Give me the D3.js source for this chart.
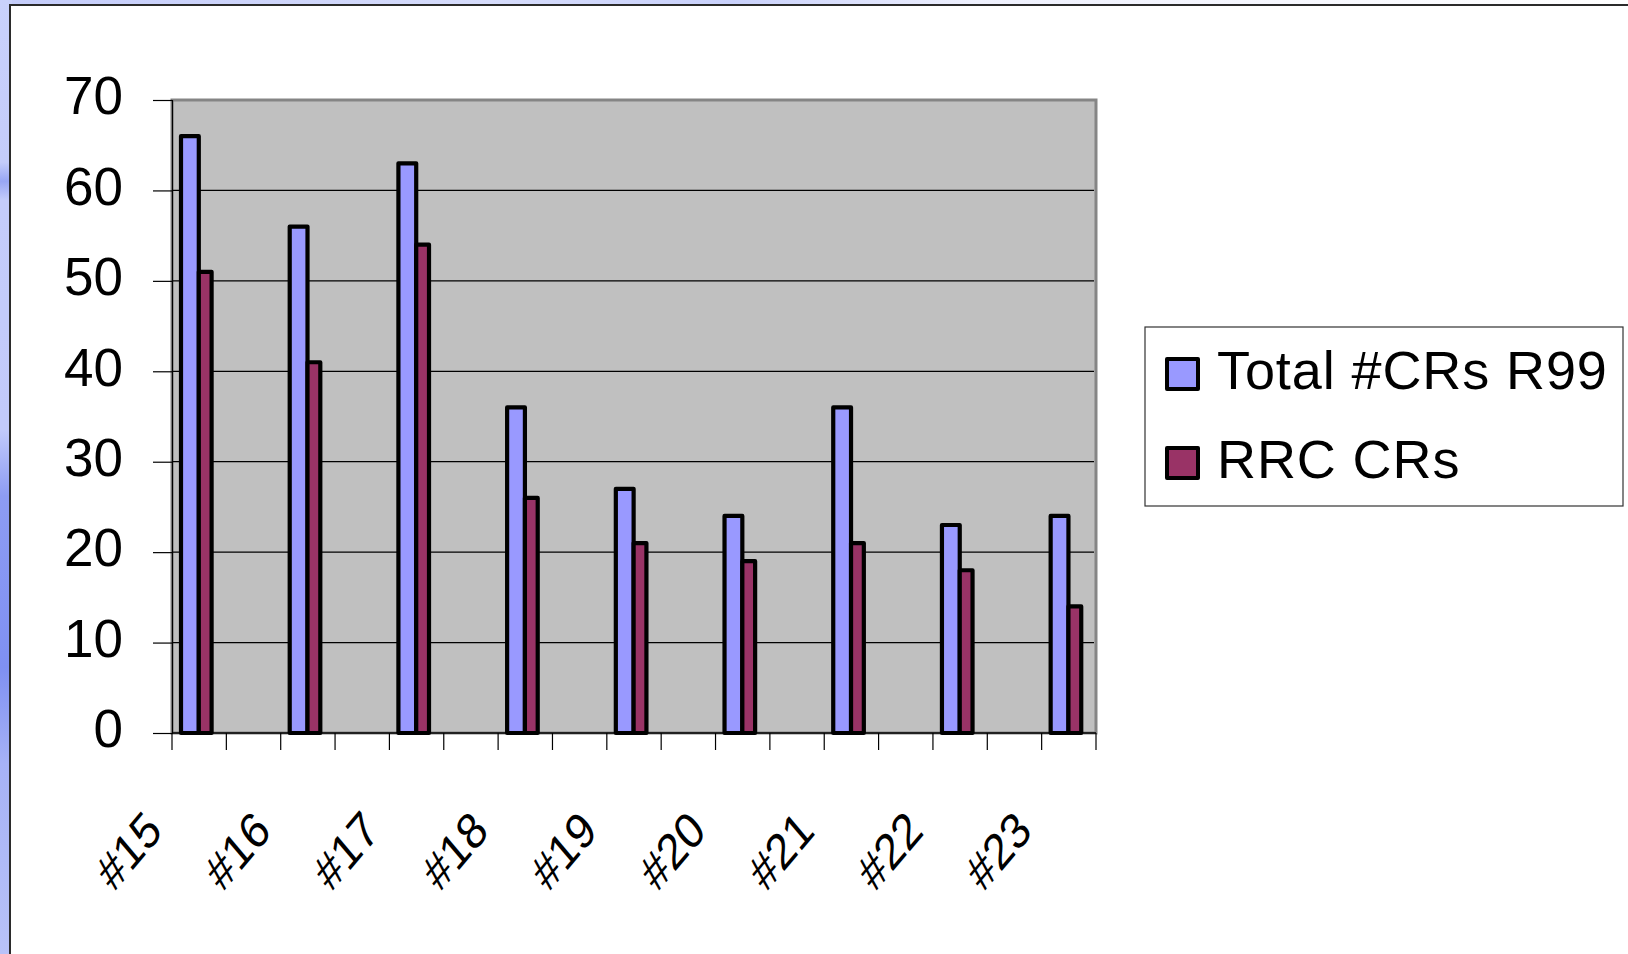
<!DOCTYPE html>
<html>
<head>
<meta charset="utf-8">
<script src="https://cdn.jsdelivr.net/npm/d3@7"></script>
<style>
  body { margin: 0; padding: 0; overflow: hidden; background: #fff; }
  text { font-family: "Liberation Sans", Arial, sans-serif; fill: #000; }
</style>
</head>
<body>
<div id="chart"></div>
<script>
// chart data
var categories = ["#15", "#16", "#17", "#18", "#19", "#20", "#21", "#22", "#23"];
var totalCRs = [66, 56, 63, 36, 27, 24, 36, 23, 24];
var rrcCRs = [51, 41, 54, 26, 21, 19, 21, 18, 14];
var seriesNames = ["Total #CRs R99", "RRC CRs"];
var yTicks = [0, 10, 20, 30, 40, 50, 60, 70];

var width = 1628, height = 954;
var plot = { left: 172, top: 100, right: 1096, bottom: 733 };
var colors = { blue: "#9999ff", plum: "#993366", plotBg: "#c0c0c0" };

var svg = d3.select("#chart").append("svg")
  .attr("width", width)
  .attr("height", height);

// slide background gradients (left + top strips behind the white chart frame)
var defs = svg.append("defs");
var gv = defs.append("linearGradient").attr("id", "bgLeft")
  .attr("x1", 0).attr("y1", 0).attr("x2", 0).attr("y2", 1);
[[0, "#c9d1fb"], [0.17, "#c4ccfa"], [0.19, "#98a6f4"], [0.21, "#c4ccfa"], [0.45, "#c2cafa"],
 [0.52, "#8d9cf3"], [0.7, "#7f90f2"], [0.8, "#a6b2f6"], [1, "#b8c2f8"]].forEach(function(s) {
  gv.append("stop").attr("offset", s[0]).attr("stop-color", s[1]);
});
var gh = defs.append("linearGradient").attr("id", "bgTop")
  .attr("x1", 0).attr("y1", 0).attr("x2", 1).attr("y2", 0);
[[0, "#c4ccfa"], [0.3, "#d6dcfb"], [0.45, "#c9d1fb"], [0.6, "#eef0fd"], [1, "#ffffff"]].forEach(function(s) {
  gh.append("stop").attr("offset", s[0]).attr("stop-color", s[1]);
});
svg.append("rect").attr("x", 0).attr("y", 0).attr("width", width).attr("height", height)
  .attr("fill", "url(#bgTop)");
svg.append("rect").attr("x", 0).attr("y", 0).attr("width", 12).attr("height", height)
  .attr("fill", "url(#bgLeft)");

// chart frame
svg.append("rect")
  .attr("x", 10).attr("y", 5)
  .attr("width", width + 20).attr("height", height + 20)
  .attr("fill", "#fff")
  .attr("stroke", "#2b2b2b")
  .attr("stroke-width", 2);

// scales: each category is followed by an empty slot, as in the original sheet
var slots = [];
categories.forEach(function(c, i) {
  slots.push(c);
  if (i < categories.length - 1) slots.push("gap" + i);
});

var x = d3.scaleBand()
  .domain(slots)
  .range([plot.left, plot.right])
  .paddingInner(0)
  .paddingOuter(0);

var y = d3.scaleLinear()
  .domain([0, 70])
  .range([plot.bottom, plot.top]);

// bar offsets / widths inside a slot
var barOffset = d3.scaleOrdinal().domain(seriesNames).range([9, 26.8]);
var barWidth = d3.scaleOrdinal().domain(seriesNames).range([17.8, 12.8]);
var barColor = d3.scaleOrdinal().domain(seriesNames).range([colors.blue, colors.plum]);

// plot area
svg.append("rect")
  .attr("x", plot.left).attr("y", y(70))
  .attr("width", plot.right - plot.left)
  .attr("height", y(0) - y(70))
  .attr("fill", colors.plotBg)
  .attr("stroke", "#858585")
  .attr("stroke-width", 3);

// gridlines
svg.append("g").selectAll("line")
  .data(yTicks.filter(function(t) { return t > 0 && t < 70; }))
  .join("line")
  .attr("x1", plot.left).attr("x2", plot.right - 2)
  .attr("y1", function(d) { return y(d); })
  .attr("y2", function(d) { return y(d); })
  .attr("stroke", "#000")
  .attr("stroke-width", 1.2);

// y axis
var yAxis = svg.append("g")
  .attr("transform", "translate(" + plot.left + ",0)")
  .call(d3.axisLeft(y).tickValues(yTicks).tickSize(19).tickPadding(30));
yAxis.select(".domain").attr("stroke", "#000").attr("stroke-width", 1.2);
yAxis.selectAll(".tick line").attr("stroke", "#000").attr("stroke-width", 1.2);
yAxis.selectAll(".tick text")
  .attr("font-size", 53)
  .attr("dy", "0.26em")
  .style("font-family", "'Liberation Sans', Arial, sans-serif");

// x axis line and ticks at slot boundaries
var xAxis = svg.append("g");
xAxis.append("line")
  .attr("x1", plot.left).attr("x2", plot.right)
  .attr("y1", y(0)).attr("y2", y(0))
  .attr("stroke", "#000").attr("stroke-width", 1.5);
var boundaries = slots.map(function(s) { return x(s); }).concat([plot.right]);
xAxis.selectAll(".xtick")
  .data(boundaries)
  .join("line")
  .attr("class", "xtick")
  .attr("x1", function(d) { return d; })
  .attr("x2", function(d) { return d; })
  .attr("y1", y(0)).attr("y2", y(0) + 17)
  .attr("stroke", "#000").attr("stroke-width", 1.2);

// bars
var rows = [];
categories.forEach(function(c, i) {
  rows.push({ cat: c, series: seriesNames[0], value: totalCRs[i] });
  rows.push({ cat: c, series: seriesNames[1], value: rrcCRs[i] });
});
svg.append("g").selectAll("rect")
  .data(rows)
  .join("rect")
  .attr("x", function(d) { return x(d.cat) + barOffset(d.series); })
  .attr("y", function(d) { return y(d.value); })
  .attr("width", function(d) { return barWidth(d.series); })
  .attr("height", function(d) { return y(0) - y(d.value); })
  .attr("fill", function(d) { return barColor(d.series); })
  .attr("stroke", "#000")
  .attr("stroke-width", 4.2)
  .attr("stroke-linejoin", "round");

// category labels, rotated (slightly stretched vertically like the source picture)
svg.append("g").selectAll("text")
  .data(categories)
  .join("text")
  .attr("text-anchor", "end")
  .attr("font-size", 46)
  .attr("transform", function(d) {
    var cx = x(d) + x.bandwidth() / 2 - 35;
    return "translate(" + cx + "," + 833 + ") scale(0.93,1.1) rotate(-45)";
  })
  .text(function(d) { return d; });

// legend
var legend = svg.append("g");
legend.append("rect")
  .attr("x", 1145).attr("y", 327)
  .attr("width", 478).attr("height", 179)
  .attr("fill", "#fff")
  .attr("stroke", "#333")
  .attr("stroke-width", 1.2);
var item = legend.selectAll(".item")
  .data(seriesNames)
  .join("g")
  .attr("class", "item")
  .attr("transform", function(d, i) { return "translate(1167," + (359 + i * 89) + ")"; });
item.append("rect")
  .attr("width", 31).attr("height", 30)
  .attr("fill", function(d) { return barColor(d); })
  .attr("stroke", "#000")
  .attr("stroke-width", 4)
  .attr("stroke-linejoin", "round");
item.append("text")
  .attr("x", 50).attr("y", 30)
  .attr("font-size", 54)
  .attr("letter-spacing", 0.9)
  .text(function(d) { return d; });
</script>
</body>
</html>
